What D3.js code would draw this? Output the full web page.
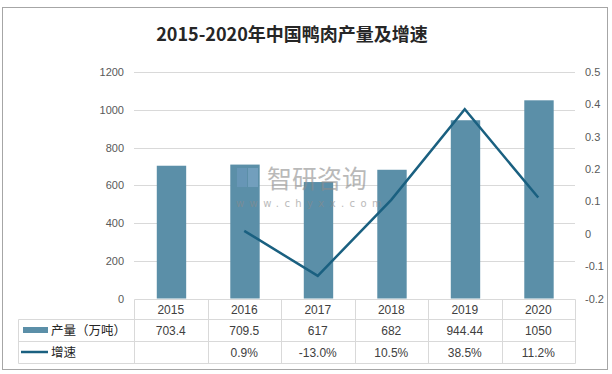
<!DOCTYPE html>
<html><head><meta charset="utf-8">
<script src="https://cdn.jsdelivr.net/npm/d3@7"></script>
<style>body{margin:0;background:#fff;}svg{display:block;font-family:"Noto Sans CJK SC","Microsoft YaHei",sans-serif;}</style>
</head><body><svg id="c" width="612" height="374"></svg>
<script>
const years = ["2015","2016","2017","2018","2019","2020"];
const output = [703.4, 709.5, 617, 682, 944.44, 1050];
const growth = [null, 0.009, -0.13, 0.105, 0.385, 0.112];
const outputLabels = ["703.4","709.5","617","682","944.44","1050"];
const growthLabels = ["","0.9%","-13.0%","10.5%","38.5%","11.2%"];
const leftTicks = [0,200,400,600,800,1000,1200];
const rightTicks = [-0.2,-0.1,0,0.1,0.2,0.3,0.4,0.5];
const title = "2015-2020年中国鸭肉产量及增速";
const seriesNames = ["产量（万吨）","增速"];

const svg = d3.select("#c");
const barColor = "#5b8fa8", lineColor = "#1a6080", gridColor = "#d9d9d9", textColor = "#595959";
const x0 = 134, x1 = 575, yTop = 72, yBot = 298.5;

svg.append("rect").attr("x",2.5).attr("y",7.5).attr("width",605).attr("height",362).attr("fill","#fff").attr("stroke","#a6a6a6").attr("stroke-width",1);

svg.append("text").attr("x",292).attr("y",41).attr("text-anchor","middle").attr("font-size",18).attr("font-weight","bold").attr("fill","#262626").text(title);

const xb = d3.scaleBand().domain(years).range([x0,x1]);
const y = d3.scaleLinear().domain([0,1200]).range([yBot,yTop]);
const y2 = d3.scaleLinear().domain([-0.2,0.5]).range([yBot,yTop]);

// grid
svg.append("g").selectAll("line").data(leftTicks.filter(d=>d>0)).join("line")
  .attr("x1",x0).attr("x2",x1).attr("y1",d=>Math.round(y(d))+0.5).attr("y2",d=>Math.round(y(d))+0.5)
  .attr("stroke",gridColor);

const la = svg.append("g").attr("transform",`translate(${x0-10},0)`).call(d3.axisLeft(y).tickValues(leftTicks).tickSize(0).tickPadding(0).tickFormat(d=>String(d)));
la.select(".domain").remove();
la.selectAll("text").attr("font-size",11).attr("fill",textColor).attr("font-family","Liberation Sans, Arial, sans-serif");

const ra = svg.append("g").attr("transform",`translate(${x1+10},0)`).call(d3.axisRight(y2).tickValues(rightTicks).tickSize(0).tickPadding(0).tickFormat(d=>String(+d.toFixed(1))));
ra.select(".domain").remove();
ra.selectAll("text").attr("font-size",11).attr("fill",textColor).attr("font-family","Liberation Sans, Arial, sans-serif");

// bars
svg.append("g").selectAll("rect").data(years).join("rect")
  .attr("x",d=>xb(d)+xb.bandwidth()*0.31).attr("width",xb.bandwidth()*0.4)
  .attr("y",(d,i)=>y(output[i])).attr("height",(d,i)=>yBot-y(output[i]))
  .attr("fill",barColor);

// watermark
const wm = svg.append("g").attr("opacity",0.6);
wm.append("rect").attr("x",237).attr("y",168).attr("width",10).attr("height",19).attr("fill","#6f9cc0");
wm.append("rect").attr("x",248).attr("y",168).attr("width",10).attr("height",19).attr("fill","#82abcb");
wm.append("text").attr("x",267).attr("y",188).attr("font-size",25).attr("fill","#8c8c8c").text("智研咨询");
wm.append("text").attr("x",236).attr("y",207).attr("font-size",10).attr("letter-spacing","5.4").attr("fill","#8c8c8c").attr("font-family","DejaVu Sans").text("www.chyxx.com");

// line
const pts = years.map((d,i)=>({d,v:growth[i]})).filter(p=>p.v!==null);
svg.append("path").datum(pts).attr("fill","none").attr("stroke",lineColor).attr("stroke-width",2.5)
  .attr("d",d3.line().x(p=>xb(p.d)+xb.bandwidth()/2).y(p=>y2(p.v)));

// table
const rowY = [299.5, 319.5, 341.5, 363.5];
const tLeft = 18.5;
const tg = svg.append("g").attr("stroke",gridColor).attr("stroke-width",1);
tg.append("line").attr("x1",x0+0.5).attr("x2",x1+0.5).attr("y1",rowY[0]).attr("y2",rowY[0]);
[1,2,3].forEach(i=>tg.append("line").attr("x1",tLeft).attr("x2",x1+0.5).attr("y1",rowY[i]).attr("y2",rowY[i]));
tg.append("line").attr("x1",tLeft).attr("x2",tLeft).attr("y1",rowY[1]).attr("y2",rowY[3]);
years.forEach(d=>tg.append("line").attr("x1",Math.round(xb(d))+0.5).attr("x2",Math.round(xb(d))+0.5).attr("y1",rowY[0]).attr("y2",rowY[3]));
tg.append("line").attr("x1",x1+0.5).attr("x2",x1+0.5).attr("y1",rowY[0]).attr("y2",rowY[3]);

const tt = svg.append("g").attr("font-size",12).attr("fill","#404040").attr("text-anchor","middle").attr("font-family","Liberation Sans, Arial, sans-serif");
years.forEach((d,i)=>{
  const cx = xb(d)+xb.bandwidth()/2;
  tt.append("text").attr("x",cx).attr("y",314).text(d);
  tt.append("text").attr("x",cx).attr("y",335).text(outputLabels[i]);
  tt.append("text").attr("x",cx).attr("y",357).text(growthLabels[i]);
});
svg.append("rect").attr("x",23).attr("y",327).attr("width",25).attr("height",6).attr("fill",barColor);
svg.append("line").attr("x1",21).attr("x2",48).attr("y1",352).attr("y2",352).attr("stroke",lineColor).attr("stroke-width",2.5);
svg.append("text").attr("x",51).attr("y",335).attr("font-size",12.5).attr("fill","#262626").text(seriesNames[0]);
svg.append("text").attr("x",51).attr("y",357).attr("font-size",12.5).attr("fill","#262626").text(seriesNames[1]);
</script></body></html>
